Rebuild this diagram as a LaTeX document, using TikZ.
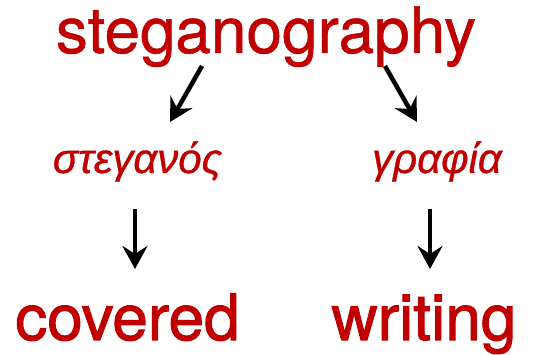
\documentclass[tikz,border=0pt]{standalone}
\usepackage{fontspec}
\setmainfont{TeX Gyre Heros}
\newfontfamily\topfont{TeX Gyre Heros}[FakeBold=0.8]
\newfontfamily\botfont{TeX Gyre Heros}[FakeBold=1.6]
\newfontfamily\greekfont{Liberation Sans}[ItalicFeatures={FakeBold=0.8}]
\usetikzlibrary{arrows.meta,calc}
\definecolor{wordred}{RGB}{192,0,0}
\tikzset{
  bigword/.style={text=wordred, anchor=base, inner sep=0pt, font=\fontsize{64}{64}\selectfont\topfont},
  botword/.style={text=wordred, anchor=base, inner sep=0pt, font=\fontsize{64}{64}\selectfont\botfont},
  greekword/.style={text=wordred, anchor=base, inner sep=0pt, font=\fontsize{42}{42}\selectfont\greekfont\itshape},
  arr/.style={line width=4.5pt, -{Stealth[length=23pt,width=25pt,inset=8pt]}}
}
\begin{document}
\begin{tikzpicture}[x=1pt,y=1pt]
\useasboundingbox (0,0) rectangle (553,355);
\node[bigword] (top) at (266,302) {steganography};
\node[greekword] (stegan) at (137.5,182) {στεγανός};
\node[greekword] (graph) at (437,182) {γραφία};
\node[botword] (covered) at (127.5,15) {covered};
\node[botword] (writing) at (424,15) {writing};
\draw[arr] ($(top.base)+(-64,-13)$) -- ($(stegan.base)+(32.5,51)$);
\draw[arr] ($(top.base)+(119,-13)$) -- ($(graph.base)+(-20,51)$);
\draw[arr] ($(stegan.base)+(-2.5,-36)$) -- ($(covered.base)+(7.5,71)$);
\draw[arr] ($(graph.base)+(-7,-36)$) -- ($(writing.base)+(6,71)$);
\end{tikzpicture}
\end{document}
